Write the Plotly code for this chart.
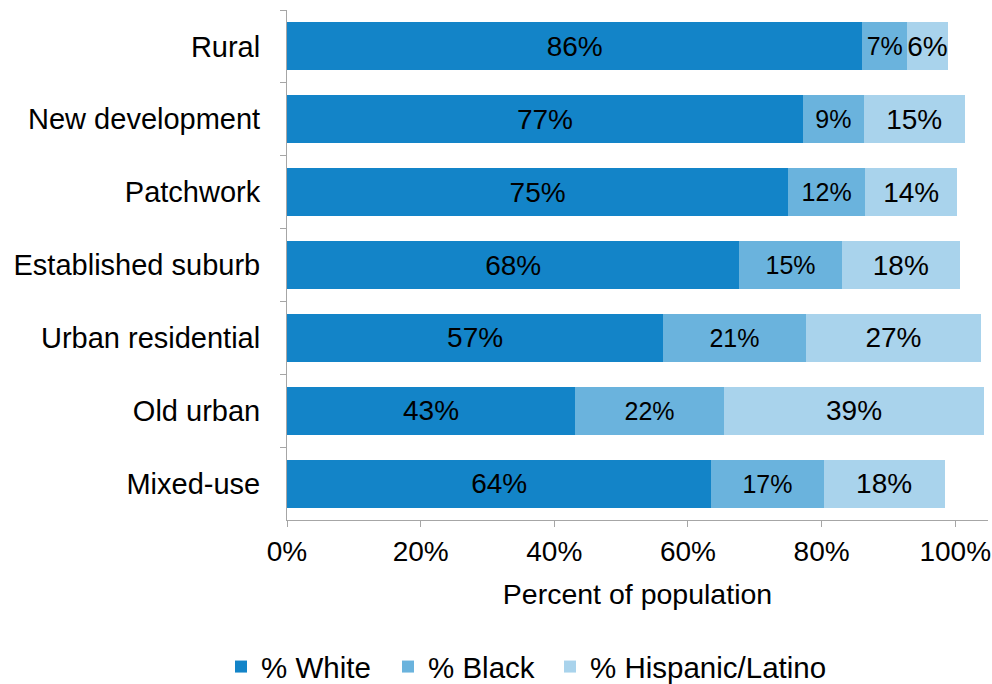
import plotly.graph_objects as go

categories = ["Rural", "New development", "Patchwork", "Established suburb",
              "Urban residential", "Old urban", "Mixed-use"]
white = [86.1, 77.2, 75.0, 67.7, 56.3, 43.1, 63.5]
black = [6.7, 9.1, 11.5, 15.3, 21.3, 22.3, 16.8]
hispanic = [6.1, 15.1, 13.8, 17.7, 26.3, 38.9, 18.1]
white_labels = ["86%", "77%", "75%", "68%", "57%", "43%", "64%"]
black_labels = ["7%", "9%", "12%", "15%", "21%", "22%", "17%"]
hispanic_labels = ["6%", "15%", "14%", "18%", "27%", "39%", "18%"]
x_ticks = [0, 20, 40, 60, 80, 100]

FONT = "Liberation Sans, Arial, sans-serif"
series = [
    ("% White", white, white_labels, "#1384C8", 28, "legend", 221),
    ("% Black", black, black_labels, "#6AB3DD", 25, "legend2", 388),
    ("% Hispanic/Latino", hispanic, hispanic_labels, "#A9D3EC", 28, "legend3", 550),
]

fig = go.Figure()
legends = {}
for name, vals, labels, color, fs, leg, lx in series:
    fig.add_trace(go.Bar(
        y=categories, x=vals, name=name, orientation="h",
        marker=dict(color=color, line=dict(width=0)),
        text=labels, textposition="inside", insidetextanchor="middle",
        textfont=dict(family=FONT, size=fs, color="#000000"),
        textangle=0, constraintext="none", legend=leg,
    ))
    legends[leg] = dict(orientation="h", xref="container", yref="paper",
                        x=lx / 992, xanchor="left", y=-0.288, yanchor="middle",
                        font=dict(size=29.5), bgcolor="rgba(0,0,0,0)")

fig.update_layout(
    width=992, height=684,
    barmode="stack", bargap=0.34,
    plot_bgcolor="white", paper_bgcolor="white",
    margin=dict(l=287, r=4, t=10, b=164, autoexpand=False),
    font=dict(family=FONT, size=28, color="#000000"),
    showlegend=True,
    **legends,
)
fig.update_xaxes(
    range=[0, 104.9], tickvals=x_ticks, ticktext=[f"{v}%" for v in x_ticks],
    showgrid=False, zeroline=False, showline=True, linecolor="#A6A6A6",
    linewidth=1, ticks="outside", ticklen=6, tickcolor="#A6A6A6",
    tickfont=dict(size=28), automargin=False,
    title=dict(text="Percent of population", font=dict(size=28.5), standoff=18),
)
fig.update_yaxes(
    categoryorder="array", categoryarray=categories, autorange="reversed",
    showgrid=False, zeroline=False, showline=True, linecolor="#A6A6A6",
    linewidth=1, ticks="outside", ticklen=6, tickcolor="#A6A6A6",
    tickson="boundaries", tickfont=dict(size=29), ticklabelstandoff=20,
    automargin=False,
)

fig.write_html("out.html", config={"displayModeBar": False},
               post_script="document.body.style.margin='0px';")
